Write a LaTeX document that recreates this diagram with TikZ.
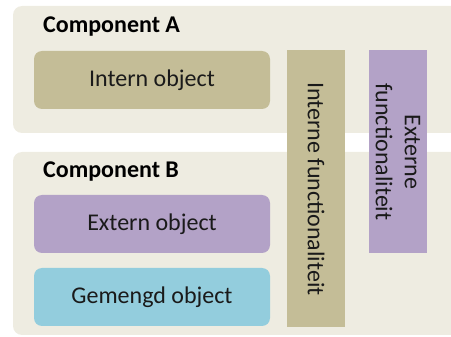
\documentclass[tikz,border=0pt]{standalone}
\usepackage{fontspec}
\setmainfont{Carlito}
\definecolor{panelbg}{HTML}{EEECE1}
\definecolor{tan}{HTML}{C4BD97}
\definecolor{lilac}{HTML}{B3A2C7}
\definecolor{skyblue}{HTML}{93CDDD}
\definecolor{ink}{HTML}{1A1A1A}
\begin{document}
\begin{tikzpicture}[x=1pt,y=-1pt,
  txt/.style={text=ink, font=\fontsize{24}{29}\selectfont},
  panel/.style={fill=panelbg, rounded corners=9pt},
  obj/.style={txt, rounded corners=8pt, minimum width=236pt, minimum height=58pt, inner sep=0pt},
  bar/.style={minimum width=58pt, inner sep=0pt},
  title/.style={anchor=base west, inner sep=0pt, text=black, font=\bfseries\fontsize{24}{29}\selectfont}]
\useasboundingbox (0,0) rectangle (451,337);
% component panels, running off the right edge
\fill[panel] (13,6) rectangle (470,133);
\fill[panel] (13,152) rectangle (470,335);
\node[title] (ta) at (43,32.5) {Component A};
\node[title] (tb) at (43,178) {Component B};
% objects
\node[obj, fill=tan] (intern) at (152,80) {Intern object};
\node[obj, fill=lilac] (extern) at (152,224) {Extern object};
\node[obj, fill=skyblue] (mixed) at (152,297) {Gemengd object};
% vertical functionality bars
\node[bar, fill=tan, minimum height=277pt] (ifunc) at (316,189) {};
\node[txt, rotate=-90] (ilabel) at (ifunc.center) {Interne functionaliteit};
\node[bar, fill=lilac, minimum height=203pt] (efunc) at (398,152) {};
\node[txt, rotate=-90, align=center] (elabel) at (efunc.center) {Externe\\functionaliteit};
\end{tikzpicture}
\end{document}
